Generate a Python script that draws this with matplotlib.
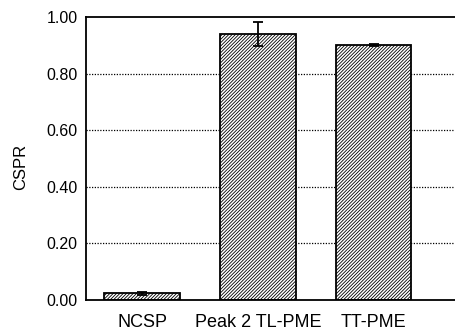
import matplotlib
matplotlib.use("Agg")
import matplotlib.pyplot as plt
import numpy as np

categories = ["NCSP", "Peak 2 TL-PME", "TT-PME"]
values = [0.024, 0.940, 0.902]
errors = [0.005, 0.041, 0.004]
yticks = [0.00, 0.20, 0.40, 0.60, 0.80, 1.00]

plt.rcParams['font.family'] = ['Liberation Sans', 'DejaVu Sans']
plt.rcParams['hatch.linewidth'] = 0.6

fig = plt.figure(figsize=(4.56, 3.33), dpi=100)
ax = fig.add_axes([86/456, 1 - 300/333, 1 - 86/456 + 0.01, (300 - 17)/333])

x = np.arange(len(categories))
ax.bar(x, values, width=0.65, color='white', edgecolor='black', linewidth=1.3,
       hatch='/' * 10, zorder=2)
ax.errorbar(x, values, yerr=errors, fmt='none', ecolor='black', elinewidth=1.3,
            capsize=3.5, capthick=1.3, zorder=3)

ax.set_ylim(0, 1.0)
ax.set_xlim(-0.484, 2.75)
ax.set_yticks(yticks)
ax.set_yticklabels([f"{v:.2f}" for v in yticks], fontsize=11.5)
ax.set_xticks(x)
ax.set_xticklabels(categories, fontsize=13)
ax.tick_params(axis='y', length=0, pad=6)
ax.tick_params(axis='x', length=0, pad=10)

for v in yticks[1:-1]:
    ax.axhline(v, color='black', linestyle=(0, (1, 1.2)), linewidth=0.9, zorder=1)

for s in ['left', 'top', 'bottom']:
    ax.spines[s].set_linewidth(1.3)
ax.spines['right'].set_visible(False)

ax.set_ylabel("CSPR", fontsize=12)
ax.yaxis.set_label_coords(-0.155, 0.47)

fig.savefig("out.png", dpi=100)
